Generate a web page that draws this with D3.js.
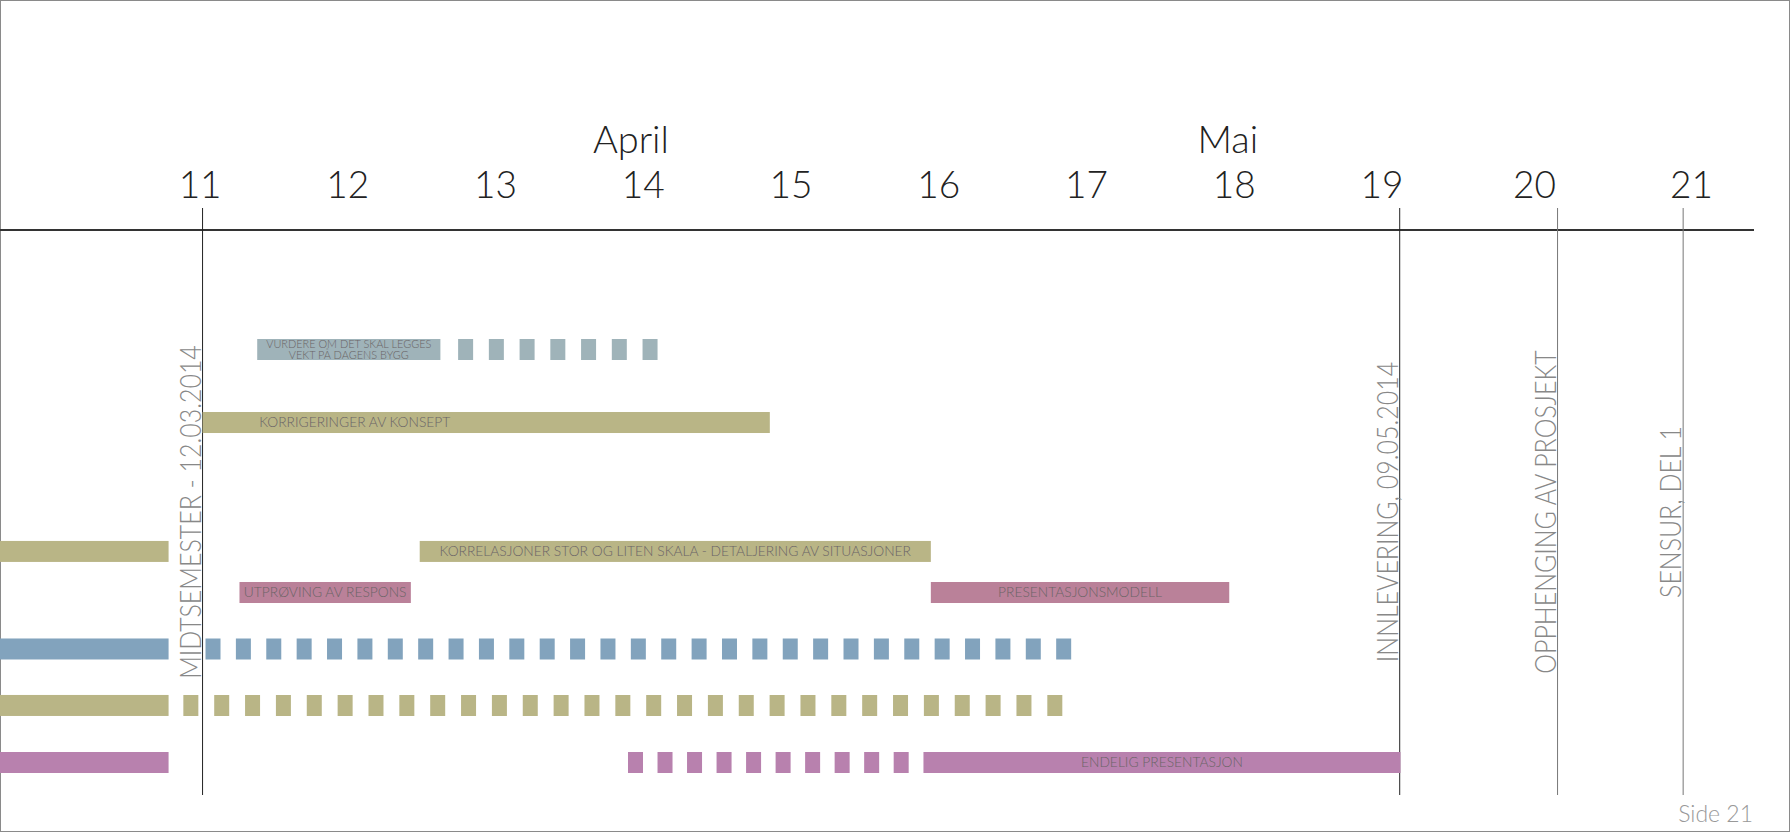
<!DOCTYPE html>
<html>
<head>
<meta charset="utf-8">
<script src="https://cdn.jsdelivr.net/npm/d3@7"></script>
<style>
  body { margin: 0; background: #fff; }
  svg { display: block; font-family: Lato, "Open Sans", sans-serif; font-weight: 300; }
</style>
</head>
<body>
<div id="chart"></div>
<script>
// week numbers on the top axis
var weeks = [11, 12, 13, 14, 15, 16, 17, 18, 19, 20, 21];
var months = ["April", "Mai"];
var monthWeek = [13.92, 17.96];

// milestones (week position + label)
var milestoneWeek = [11.02, 19.12, 20.15, 20.95];
var milestoneLabel = ["MIDTSEMESTER - 12.03.2014", "INNLEVERING, 09.05.2014", "OPPHENGING AV PROSJEKT", "SENSUR, DEL 1"];
var milestoneStrong = [true, true, false, false];

// tasks
var taskLabel = ["VURDERE OM DET SKAL LEGGES\nVEKT PÅ DAGENS BYGG", "", "KORRIGERINGER AV KONSEPT", "",
  "KORRELASJONER STOR OG LITEN SKALA - DETALJERING AV SITUASJONER", "UTPRØVING AV RESPONS", "PRESENTASJONSMODELL",
  "", "", "", "", "", "", "ENDELIG PRESENTASJON"];
var taskStart = [11.39, 12.75, 11.02, 9.5, 12.49, 11.27, 15.95, 9.5, 11.04, 9.5, 10.89, 9.5, 13.9, 15.9];
var taskEnd = [12.63, 14.1, 14.86, 10.79, 15.95, 12.43, 17.97, 10.79, 16.9, 10.79, 16.84, 10.79, 15.8, 19.125];
var taskLane = [0, 0, 1.28, 3.54, 3.54, 4.26, 4.26, 5.25, 5.25, 6.24, 6.24, 7.24, 7.24, 7.24];
var taskDashed = [false, true, false, false, false, false, false, false, true, false, true, false, true, false];
var taskGroup = ["bygg", "bygg", "konsept", "konsept", "konsept", "modell", "modell", "plan", "plan", "konsept", "konsept", "presentasjon", "presentasjon", "presentasjon"];
var labelWeek = [null, null, 12.05, null, null, null, null, null, null, null, null, null, null, null];

var tasks = taskLabel.map(function(d, i) {
  return { label: d, start: taskStart[i], end: taskEnd[i], lane: taskLane[i], dashed: taskDashed[i], group: taskGroup[i], at: labelWeek[i] };
});

var width = 1792, height = 833;
var svg = d3.select("#chart").append("svg").attr("width", width).attr("height", height);

var x = d3.scaleLinear().domain([11, 19, 20, 21]).range([199.6, 1381.4, 1534, 1691]);
var y = d3.scaleLinear().domain([0, 7.24]).range([349.5, 762.5]);
var color = d3.scaleOrdinal()
  .domain(["bygg", "konsept", "modell", "plan", "presentasjon"])
  .range(["#9fb3b9", "#b9b586", "#ba8199", "#82a3bd", "#b881ae"]);
var barH = 21;

// page frame
svg.append("rect").attr("x", 0.5).attr("y", 0.5).attr("width", 1789).attr("height", 831)
  .attr("fill", "none").attr("stroke", "#8a8a8a");

// axis
var axis = svg.append("g").attr("transform", "translate(0,230)")
  .call(d3.axisTop(x).tickValues(weeks).tickSize(0).tickPadding(32).tickFormat(d3.format("d")));
axis.select(".domain").remove();
axis.attr("font-family", null);
axis.selectAll("text").attr("font-size", 37).attr("fill", "#222");

svg.append("line").attr("x1", 0).attr("x2", 1754).attr("y1", 230).attr("y2", 230)
  .attr("stroke", "#333").attr("stroke-width", 2);

svg.selectAll(".month").data(months).enter().append("text")
  .attr("class", "month")
  .attr("x", function(d, i) { return x(monthWeek[i]); })
  .attr("y", 153)
  .attr("text-anchor", "middle")
  .attr("font-size", 38)
  .attr("fill", "#222")
  .text(function(d) { return d; });

// milestone lines
svg.selectAll(".ms").data(milestoneWeek).enter().append("line")
  .attr("class", "ms")
  .attr("x1", function(d) { return x(d); }).attr("x2", function(d) { return x(d); })
  .attr("y1", 208).attr("y2", 795)
  .attr("stroke", function(d, i) { return milestoneStrong[i] ? "#222" : "#777"; })
  .attr("stroke-width", 1);

// rotated labels, squeezed a bit to mimic the narrow original face
svg.selectAll(".msLabel").data(milestoneLabel).enter().append("text")
  .attr("class", "msLabel")
  .attr("transform", function(d, i) { return "translate(" + (x(milestoneWeek[i]) - 2) + ",512) rotate(-90) scale(0.86,1)"; })
  .attr("text-anchor", "middle")
  .attr("font-size", 29)
  .attr("fill", "#888")
  .text(function(d) { return d; });

// bars
var bars = svg.append("g");
tasks.forEach(function(t) {
  var x0 = Math.max(0, x(t.start)), x1 = x(t.end), len = x1 - x0;
  if (t.dashed) {
    var dash = 15, n = Math.round((len + dash) / 30.4), gap = (len - n * dash) / (n - 1);
    bars.append("line")
      .attr("x1", x0).attr("x2", x1).attr("y1", y(t.lane)).attr("y2", y(t.lane))
      .attr("stroke", color(t.group)).attr("stroke-width", barH)
      .attr("stroke-dasharray", dash + " " + gap);
  } else {
    bars.append("rect")
      .attr("x", x0).attr("y", y(t.lane) - barH / 2)
      .attr("width", len).attr("height", barH)
      .attr("fill", color(t.group));
  }
  if (t.label) {
    var lines = t.label.split("\n");
    var fs = lines.length > 1 ? 10.9 : 13.8;
    var cx = t.at ? x(t.at) : (x0 + x1) / 2;
    var txt = bars.append("text")
      .attr("x", cx)
      .attr("y", y(t.lane))
      .attr("text-anchor", "middle")
      .attr("font-size", fs)
      .attr("fill", "#6a6466");
    lines.forEach(function(l, j) {
      txt.append("tspan")
        .attr("x", cx)
        .attr("dy", j === 0 ? (lines.length > 1 ? "-0.15em" : "0.35em") : "1.0em")
        .text(l);
    });
  }
});

svg.append("text").attr("x", 1753).attr("y", 822).attr("text-anchor", "end")
  .attr("font-size", 23).attr("fill", "#999").text("Side 21");
</script>
</body>
</html>
